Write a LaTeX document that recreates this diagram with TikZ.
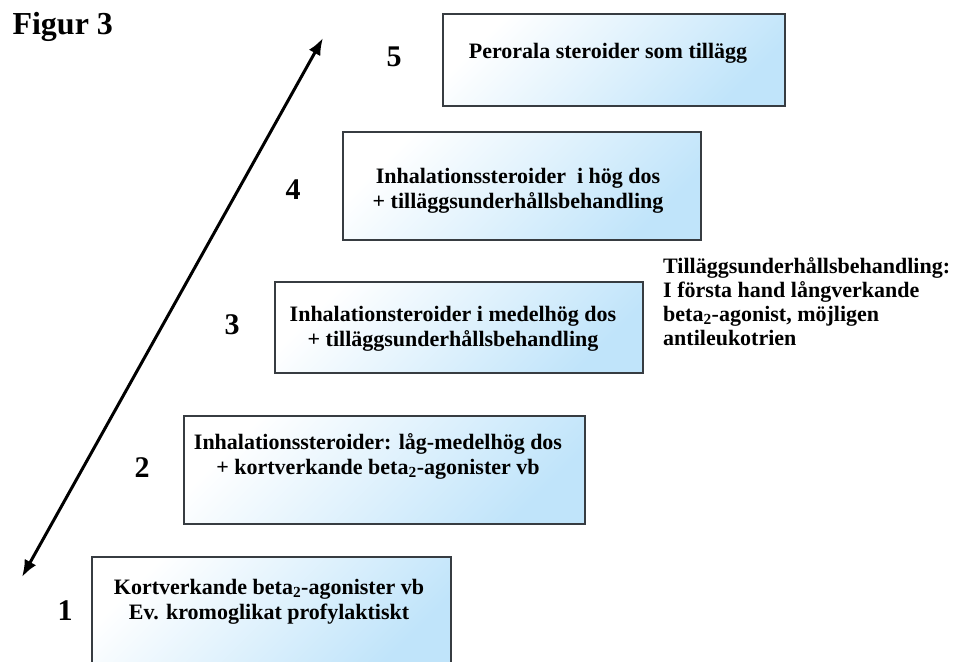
\documentclass[tikz,border=0pt]{standalone}
\usepackage{fontspec}
\setmainfont{Liberation Serif}
\usetikzlibrary{arrows.meta}
\definecolor{stepblue}{RGB}{192,228,250}
\definecolor{stepedge}{RGB}{55,60,65}

\begin{document}
\begin{tikzpicture}[x=1pt,y=-1pt,
  stepbox/.style={draw=stepedge, line width=2pt, top color=white, bottom color=stepblue, shading angle=45, inner sep=0pt},
  steptext/.style={align=center, inner sep=0pt, font=\fontsize{22}{25}\selectfont\bfseries},
  stepnum/.style={font=\fontsize{30}{30}\selectfont\bfseries}]
\useasboundingbox (0,0) rectangle (955,661);
\node[anchor=west, font=\fontsize{32}{32}\selectfont\bfseries] (title) at (9,27) {Figur 3};
\node[stepbox, minimum width=342pt, minimum height=92pt] (b5) at (614,60) {};
\node[stepbox, minimum width=358pt, minimum height=108pt] (b4) at (522,186) {};
\node[stepbox, minimum width=368pt, minimum height=91pt] (b3) at (459,327.5) {};
\node[stepbox, minimum width=401pt, minimum height=108pt] (b2) at (384.5,470) {};
\node[stepbox, minimum width=359pt, minimum height=108pt] (b1) at (271.5,611) {};
\node[steptext] (t5) at (608,53) {Perorala steroider som tillägg};
\node[steptext] (t4) at (518,191) {Inhalationssteroider\ \ i hög dos\\+ tilläggsunderhållsbehandling};
\node[steptext] (t3) at (453,329) {Inhalationsteroider i medelhög dos\\+ tilläggsunderhållsbehandling};
\node[steptext] (t2) at (378,456) {Inhalationssteroider: låg-medelhög dos\\+ kortverkande beta\textsubscript{2}-agonister vb};
\node[steptext] (t1) at (269,602) {Kortverkande beta\textsubscript{2}-agonister vb\\Ev. kromoglikat profylaktiskt};
\node[stepnum] (n5) at (394,57) {5};
\node[stepnum] (n4) at (293,190) {4};
\node[stepnum] (n3) at (232,325) {3};
\node[stepnum] (n2) at (142,468) {2};
\node[stepnum] (n1) at (65,611) {1};
\node[anchor=north west, align=left, inner sep=0pt, font=\fontsize{22}{24}\selectfont\bfseries] (note) at (663,257) {Tilläggsunderhållsbehandling:\\I första hand långverkande\\beta\textsubscript{2}-agonist, möjligen\\antileukotrien};
\coordinate (up) at (323,38);
\coordinate (down) at (22,577);
\draw[line width=3pt, {Latex[length=17pt,width=13pt]}-{Latex[length=17pt,width=13pt]}] (down) -- (up);
\end{tikzpicture}
\end{document}
